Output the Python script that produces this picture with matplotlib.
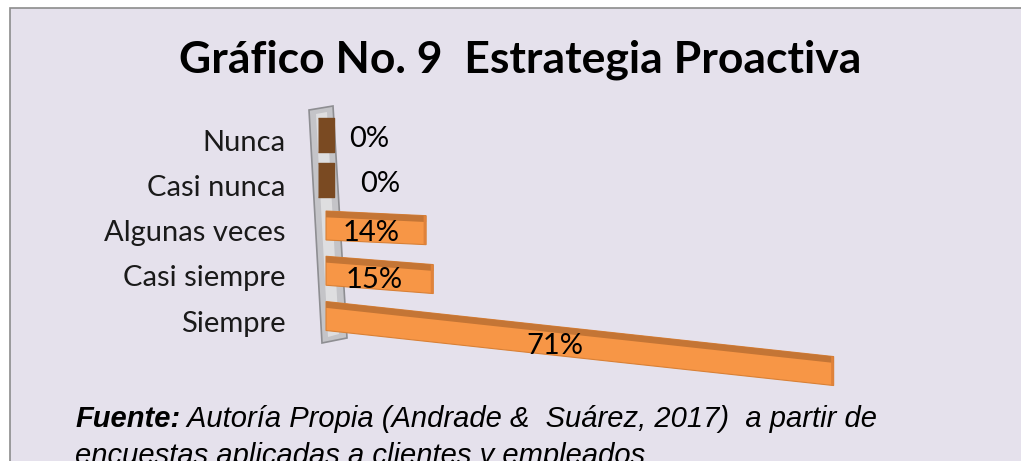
import matplotlib
matplotlib.use("Agg")
import matplotlib.pyplot as plt
import numpy as np
from matplotlib.patches import Rectangle, Polygon
from matplotlib.transforms import Affine2D, ScaledTranslation

# data
categories = ["Siempre", "Casi siempre", "Algunas veces", "Casi nunca", "Nunca"]
values = [71, 15, 14, 0, 0]
labels = ["71%", "15%", "14%", "0%", "0%"]

TITLE = "Gráfico No. 9  Estrategia Proactiva"
SRC_BOLD = "Fuente:"
SRC_TEXT = " Autoría Propia (Andrade &  Suárez, 2017)  a partir de"
SRC_LINE2 = "encuestas aplicadas a clientes y empleados"

W, H = 1021, 461
BG = "#E5E1EC"
ORANGE = "#F79646"
ORANGE_TOP = "#C47535"
BROWN = "#7A4A22"

fig = plt.figure(figsize=(W / 100, H / 100), dpi=100)
fig.patch.set_facecolor("white")


def fx(px):
    return px / W


def fy(py):
    return 1 - py / H


# panel background with grey border (top and left visible)
fig.patches.append(Rectangle((fx(10), -0.1), 1.0, fy(8) + 0.1,
                             transform=fig.transFigure, facecolor=BG,
                             edgecolor="#8C8C8C", linewidth=1.2, zorder=-2))

# category axis wall (decorative, perspective)
wall = Polygon([(fx(309), fy(110)), (fx(333), fy(106)), (fx(347), fy(338)),
                (fx(322), fy(343))], closed=True, transform=fig.transFigure,
               facecolor="#C4C4C8", edgecolor="#8E8E92", linewidth=1.2,
               zorder=-1)
fig.patches.append(wall)
inner = Polygon([(fx(316), fy(114)), (fx(327), fy(112)), (fx(339), fy(334)),
                 (fx(328), fy(337))], closed=True, transform=fig.transFigure,
                facecolor="#DEDEE0", edgecolor="none", zorder=-1)
fig.patches.append(inner)

# axes: 0% at x=326 px, 7.15 px per %
x0_px, px_per = 326, 7.15
xmax = 90
row_gap = 45.25
ax = fig.add_axes([fx(x0_px), fy(316 + row_gap * 0.5), xmax * px_per / W,
                   row_gap * 5 / H])
ax.set_xlim(0, xmax)
ax.set_ylim(-0.5, 4.5)
ax.patch.set_alpha(0)
for s in ax.spines.values():
    s.set_visible(False)
ax.set_xticks([])
y = np.arange(len(categories))
ax.set_yticks(y)
ax.set_yticklabels(categories, fontsize=21, family="Lato", color="#1a1a1a")
ax.tick_params(axis="y", length=0, pad=29)
for t in ax.get_yticklabels():
    t.set_transform(t.get_transform()
                    + ScaledTranslation(0, -5 / 100, fig.dpi_scale_trans))

# perspective: bars fan out from a vanishing point on the left
vp_x, vp_y = -1140, 157  # pixel coords (from top)
bar_h = 0.64

for yi, (v, lab) in enumerate(zip(values, labels)):
    xd, yd = ax.transData.transform((0, yi))
    yc_top = H - yd
    slope = (yc_top - vp_y) / (x0_px - vp_x)
    skew = (Affine2D().translate(-xd, -yd)
            .skew(0, -np.arctan(slope))
            .translate(xd, yd))
    tr = ax.transData + skew
    if v > 0:
        b = ax.barh(yi, v, height=bar_h, color=ORANGE, edgecolor="#D98035",
                    linewidth=0.8, zorder=3)
        top = ax.barh(yi + bar_h / 2 - 0.07, v, height=0.14, color=ORANGE_TOP,
                      linewidth=0, zorder=4)
        cap = ax.barh(yi, 0.35, left=v - 0.35, height=bar_h, color="#E0823A",
                      linewidth=0, zorder=4)
        for p in (b[0], top[0], cap[0]):
            p.set_transform(tr)
            p.set_clip_on(False)
        ax.text(v / 2 - 0.05 * v, yi - 0.12, lab, transform=tr, ha="center",
                va="center", fontsize=21, family="Lato", color="black",
                zorder=5, clip_on=False)
    else:
        ax.plot([v], [yi], marker=[(-0.5, -1), (0.5, -1), (0.5, 1), (-0.5, 1)],
                markersize=24, color=BROWN, linestyle="none", zorder=3,
                transform=tr, clip_on=False)
        ax.annotate(lab, (v, yi), xytext=(17 + (yi - 4) * -7.5, -3),
                    textcoords="offset points", ha="left", va="center",
                    fontsize=21, family="Lato", color="black", zorder=5)

fig.text(fx(520), fy(60), TITLE, ha="center", va="center", fontsize=32,
         family="Lato", fontweight="bold", color="black")

src = fig.text(fx(75), fy(427), SRC_BOLD, ha="left", va="baseline",
               fontsize=21, family="Liberation Sans", fontweight="bold",
               style="italic", color="black")
fig.add_artist(
    matplotlib.text.Annotation(SRC_TEXT, xy=(1, 0), xycoords=src,
                               ha="left", va="bottom", fontsize=21,
                               family="Liberation Sans", style="italic",
                               color="black"))
fig.text(fx(75), fy(464), SRC_LINE2, ha="left", va="baseline", fontsize=21,
         family="Liberation Sans", style="italic", color="black")

fig.savefig("out.png", dpi=100, facecolor="white")
